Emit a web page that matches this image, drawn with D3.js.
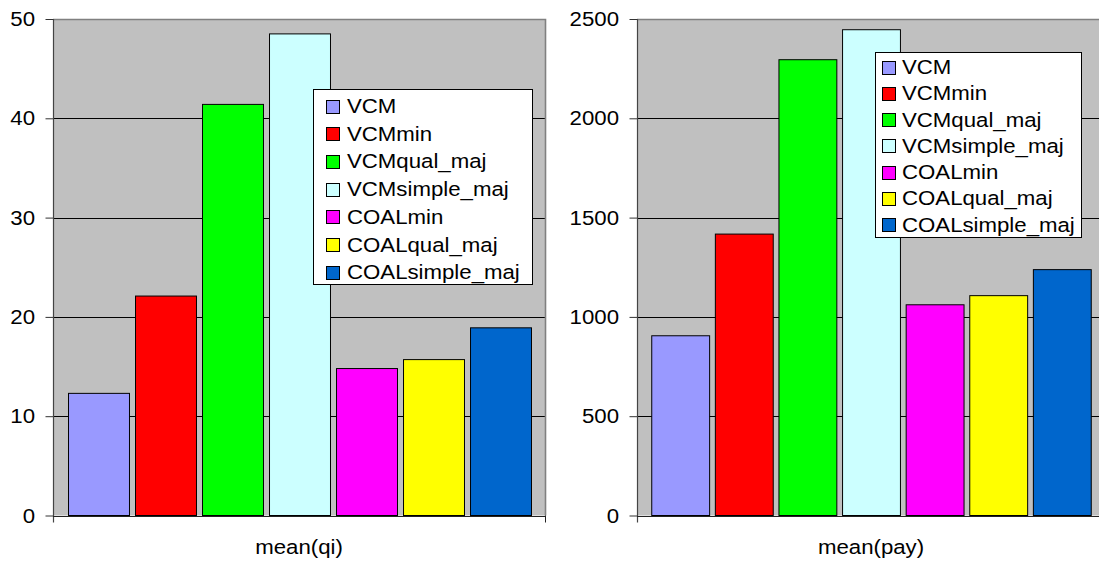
<!DOCTYPE html>
<html>
<head>
<meta charset="utf-8">
<script src="https://cdn.jsdelivr.net/npm/d3@7/dist/d3.min.js"></script>
<style>
  html, body { margin: 0; padding: 0; background: #ffffff; }
  svg { display: block; font-family: Arial, "Liberation Sans", sans-serif; }
</style>
</head>
<body>
<svg id="chart" width="1099" height="565"></svg>
<script>
// Treatment groups, shared by both panels
const series = ["VCM", "VCMmin", "VCMqual_maj", "VCMsimple_maj", "COALmin", "COALqual_maj", "COALsimple_maj"];
const seriesColors = ["#9999FF", "#FF0000", "#00FF00", "#CCFFFF", "#FF00FF", "#FFFF00", "#0066CC"];

// Mean quantity per group
const qiValues = [12.3, 22.1, 41.4, 48.5, 14.8, 15.7, 18.9];
const qiTicks = [0, 10, 20, 30, 40, 50];

// Mean payoff per group
const payValues = [905, 1417, 2295, 2446, 1061, 1107, 1238];
const payTicks = [0, 500, 1000, 1500, 2000, 2500];

const svg = d3.select("#chart");
const FONT = 19.5;
const STRETCH = 1.14;

// Text drawn with a slight horizontal widening
function label(g, x, y, str, anchor) {
  return g.append("text")
    .attr("transform", `translate(${x},${y}) scale(${STRETCH},1)`)
    .attr("text-anchor", anchor)
    .attr("font-size", FONT)
    .attr("fill", "#000")
    .text(str);
}

function panel(opts) {
  const g = svg.append("g");
  const { left, right, top, bottom } = opts;

  const y = d3.scaleLinear().domain([opts.ticks[0], opts.ticks[opts.ticks.length - 1]]).range([bottom, top]);
  const x = d3.scaleBand().domain(series).range([left, right]).paddingInner(0.09).paddingOuter(0.224);

  // plot background
  g.append("rect")
    .attr("x", left).attr("y", top)
    .attr("width", right - left).attr("height", bottom - top)
    .attr("fill", "#C0C0C0");

  // gridlines
  g.selectAll("line.grid")
    .data(opts.ticks.slice(1, -1))
    .join("line")
    .attr("x1", left).attr("x2", right)
    .attr("y1", d => Math.round(y(d)) + 0.5).attr("y2", d => Math.round(y(d)) + 0.5)
    .attr("stroke", "#000").attr("stroke-width", 1);

  // top and right frame
  g.append("path")
    .attr("d", `M${left},${top + 0.5}H${right - 0.5}V${bottom}`)
    .attr("fill", "none").attr("stroke", "#808080").attr("stroke-width", 1.6);

  // bars
  g.selectAll("rect.bar")
    .data(opts.values)
    .join("rect")
    .attr("x", (d, i) => x(series[i]) + 0.5)
    .attr("y", d => y(d))
    .attr("width", x.bandwidth())
    .attr("height", d => y(0) - y(d))
    .attr("fill", (d, i) => seriesColors[i])
    .attr("stroke", "#000").attr("stroke-width", 1);

  // value axis
  const axisY = g.append("g").attr("transform", `translate(${left + 0.5},0)`)
    .call(d3.axisLeft(y).tickValues(opts.ticks).tickSize(8).tickFormat(""));
  axisY.select(".domain").remove();
  axisY.selectAll(".tick line").attr("stroke", "#333");
  g.append("line")
    .attr("x1", left + 0.5).attr("x2", left + 0.5)
    .attr("y1", top).attr("y2", bottom + 7)
    .attr("stroke", "#444").attr("stroke-width", 1.2);
  opts.ticks.forEach(t => {
    label(g, left - 18, y(t) + 7, String(t), "end");
  });

  // category axis
  g.append("line")
    .attr("x1", left).attr("x2", right)
    .attr("y1", Math.round(bottom) + 0.5).attr("y2", Math.round(bottom) + 0.5)
    .attr("stroke", "#222").attr("stroke-width", 1.2);
  g.append("line")
    .attr("x1", right - 0.5).attr("x2", right - 0.5)
    .attr("y1", bottom).attr("y2", bottom + 7)
    .attr("stroke", "#222").attr("stroke-width", 1);
  label(g, opts.titleX, 554, opts.title, "middle");

  // legend
  const L = opts.legend;
  g.append("rect")
    .attr("x", L.x + 0.5).attr("y", L.y + 0.5)
    .attr("width", L.w).attr("height", L.h)
    .attr("fill", "#fff").attr("stroke", "#000").attr("stroke-width", 1);
  series.forEach((s, i) => {
    const cy = L.firstRow + i * L.rowStep;
    g.append("rect")
      .attr("x", L.swatchX + 0.5).attr("y", Math.round(cy - 6.5) + 0.5)
      .attr("width", 13).attr("height", 13)
      .attr("fill", seriesColors[i]).attr("stroke", "#000").attr("stroke-width", 1);
    label(g, L.textX, cy + 7, s, "start");
  });
}

panel({
  left: 53, right: 546, top: 19, bottom: 515.5,
  values: qiValues, ticks: qiTicks,
  title: "mean(qi)", titleX: 299,
  legend: { x: 313, y: 89, w: 219, h: 195, swatchX: 326, textX: 347, firstRow: 106, rowStep: 27.7 }
});

panel({
  left: 637, right: 1105, top: 19, bottom: 515.5,
  values: payValues, ticks: payTicks,
  title: "mean(pay)", titleX: 871,
  legend: { x: 875, y: 52, w: 206, h: 185, swatchX: 882, textX: 902, firstRow: 67, rowStep: 26.25 }
});
</script>
</body>
</html>
